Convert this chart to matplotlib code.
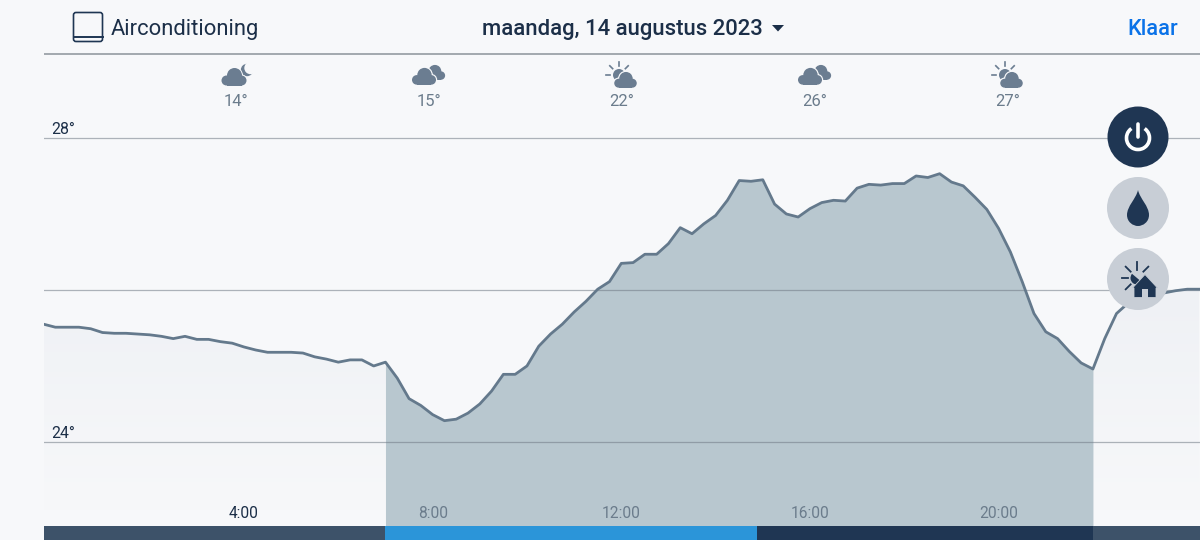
import numpy as np
import matplotlib
matplotlib.use("Agg")
import matplotlib.pyplot as plt
from matplotlib.patches import Circle, Rectangle, FancyBboxPatch, Polygon, Wedge, PathPatch, Arc
from matplotlib.path import Path
from matplotlib.transforms import ScaledTranslation

plt.rcParams['font.family'] = ['Roboto', 'DejaVu Sans']

# ---- data -------------------------------------------------------------
temperature = [
    25.55, 25.51, 25.51, 25.51, 25.49, 25.44, 25.43, 25.43, 25.42, 25.41,
    25.39, 25.36, 25.39, 25.35, 25.35, 25.32, 25.30, 25.25, 25.21, 25.18,
    25.18, 25.18, 25.17, 25.12, 25.09, 25.05, 25.08, 25.08, 25.00, 25.05,
    24.84, 24.57, 24.48, 24.36, 24.28, 24.30, 24.38, 24.50, 24.67, 24.89,
    24.89, 25.00, 25.26, 25.42, 25.55, 25.71, 25.85, 26.01, 26.11, 26.35,
    26.36, 26.47, 26.47, 26.61, 26.82, 26.74, 26.87, 26.98, 27.18, 27.44,
    27.43, 27.45, 27.13, 27.00, 26.96, 27.07, 27.15, 27.18, 27.17, 27.34,
    27.39, 27.38, 27.40, 27.40, 27.50, 27.48, 27.53, 27.42, 27.37, 27.22,
    27.06, 26.81, 26.50, 26.11, 25.69, 25.45, 25.36, 25.19, 25.04, 24.96,
    25.36, 25.69, 25.83, 25.87, 25.91, 25.96, 25.99, 26.01, 26.01,
]
first_hour = -0.25
slot_hours = 0.25
active_start, active_end = 7.0, 22.0
mode_edges = [-0.24, 7.0, 14.87, 22.0, 24.27]
mode_colors = ['#3d5269', '#2b95d9', '#1f3653', '#3d5269']
tick_hours = [4, 8, 12, 16, 20]
tick_labels = ['4:00', '8:00', '12:00', '16:00', '20:00']
grid_temps = [24, 26, 28]
grid_labels = ['24°', '', '28°']
forecast_x = [236, 429, 622, 815, 1008]
forecast_temp = ['14°', '15°', '22°', '26°', '27°']
forecast_kind = ['moon', 'clouds', 'sun', 'clouds', 'sun']

BG = '#f7f8fa'
NAVY = '#1f3653'
TEXT = '#1c2f48'
GREY = '#6b7c8c'
ICON = '#6b7d91'
BTN = '#c8ced6'

hours = first_hour + slot_hours * np.arange(len(temperature))
temps = np.array(temperature)

fig = plt.figure(figsize=(12, 5.4), dpi=100, facecolor=BG)
ax = fig.add_axes([44 / 1200, 0, 1156 / 1200, 486 / 540], facecolor=BG)
for s in ax.spines.values():
    s.set_visible(False)
base = 22.71

# soft gradient under the whole curve
outline = ax.fill_between(hours, temps, base, color='none', lw=0)
grad = np.linspace(0, 1, 256).reshape(-1, 1)
cmap = matplotlib.colors.LinearSegmentedColormap.from_list('g', ['#eff1f5', BG])
img = ax.imshow(grad, extent=(-0.24, 24.27, 23.1, 26.0), origin='upper', cmap=cmap,
                aspect='auto', zorder=0.5)
img.set_clip_path(outline.get_paths()[0], transform=ax.transData)
ax.set_xlim(-0.24, 24.27)
ax.set_ylim(base, 29.105)

# active period
active = (hours >= active_start) & (hours <= active_end)
ax.fill_between(hours[active], temps[active], base, color='#b8c7cf', lw=0, zorder=1)

# grid
ax.set_yticks(grid_temps, grid_labels)
ax.yaxis.grid(True, color='#6f7a85', alpha=0.55, lw=0.9, zorder=1.5)
ax.xaxis.grid(False)
ax.set_axisbelow(False)
ax.tick_params(axis='y', length=0, pad=-5.2, labelsize=11.4, labelcolor=TEXT)
lift = ScaledTranslation(0, 1 / 100, fig.dpi_scale_trans)
for lab in ax.get_yticklabels():
    lab.set_ha('left')
    lab.set_va('bottom')
    lab.set_transform(lab.get_transform() + lift)

# curve
ax.plot(hours, temps, color='#64798c', lw=2.0, solid_joinstyle='round', zorder=3)

# hour ticks
ax.set_xticks(tick_hours, tick_labels)
ax.tick_params(axis='x', length=0, pad=-24.8, labelsize=11.2)
for i, lab in enumerate(ax.get_xticklabels()):
    lab.set_color(TEXT if i == 0 else GREY)

# mode bar
for a, b, c in zip(mode_edges[:-1], mode_edges[1:], mode_colors):
    ax.axvspan(a, b, ymin=0, ymax=14 / 486, color=c, lw=0, zorder=4)

# ---- overlay in pixel coordinates --------------------------------------
ui = fig.add_axes([0, 0, 1, 1], facecolor='none')
ui.set_xlim(0, 1200)
ui.set_ylim(540, 0)
ui.axis('off')

ui.plot([44, 1200], [54, 54], color='#989fa5', lw=1.25, solid_capstyle='butt')

ui.text(111, 29, 'Airconditioning', fontsize=15.8, color=TEXT, va='center', ha='left')
ui.text(622.5, 29, 'maandag, 14 augustus 2023', fontsize=15.9, color=TEXT, va='center',
        ha='center', weight='medium')
ui.text(1178, 29.5, 'Klaar', fontsize=15.7, color='#0a72e8', va='center', ha='right', weight='medium')
ui.add_patch(Polygon([(772, 25), (784, 25), (778, 31.5)], color=TEXT, lw=0))

# appliance icon
ui.add_patch(FancyBboxPatch((73.5, 12.5), 29, 29, boxstyle='round,pad=0,rounding_size=2.5',
                            fc='none', ec=NAVY, lw=1.2))
ui.plot([73.5, 102.5], [36.5, 36.5], color=NAVY, lw=1.4)


def cloud(cx, cy, s, color=ICON, grow=0.0):
    parts = [Circle((cx - 7.5 * s, cy + 3 * s), 5 * s + grow),
             Circle((cx + 0.5 * s, cy - 2 * s), 7.5 * s + grow),
             Circle((cx + 7.5 * s, cy + 3 * s), 5 * s + grow),
             Rectangle((cx - 7.5 * s, cy + 1 * s - grow), 15 * s, 7 * s + 2 * grow)]
    for p in parts:
        p.set_facecolor(color)
        p.set_edgecolor('none')
        ui.add_patch(p)


def rays(cx, cy, angles, r0=8, r1=13, color=ICON):
    for a in angles:
        t = np.deg2rad(a)
        ui.plot([cx + r0 * np.cos(t), cx + r1 * np.cos(t)],
                [cy - r0 * np.sin(t), cy - r1 * np.sin(t)], color=color, lw=1.2)


for x, kind in zip(forecast_x, forecast_kind):
    if kind == 'moon':
        ui.add_patch(Circle((x + 11, 70), 6.2, color=ICON, lw=0))
        ui.add_patch(Circle((x + 14.5, 68), 6.2, color=BG, lw=0))
        cloud(x - 2, 77.5, 1.0, BG, 1.0)
        cloud(x - 2, 77.5, 1.0)
    elif kind == 'clouds':
        cloud(x + 5.5, 73, 0.85)
        cloud(x - 5, 77, 0.96, BG, 1.2)
        cloud(x - 5, 77, 0.96)
    else:
        ui.add_patch(Circle((x - 3, 75), 6, color=ICON, lw=0))
        rays(x - 3, 75, [90, 135, 180, 45], 9, 13)
        cloud(x + 3.5, 80.5, 0.9, BG, 1.2)
        cloud(x + 3.5, 80.5, 0.9)

for x, t in zip(forecast_x, forecast_temp):
    ui.text(x, 101, t, fontsize=12, color=GREY, ha='center', va='center')

# buttons
ui.add_patch(Circle((1138, 137), 30.5, color=NAVY, lw=0, zorder=5))
ui.add_patch(Circle((1138, 208), 31, color=BTN, lw=0, zorder=5))
ui.add_patch(Circle((1138, 279), 31, color=BTN, lw=0, zorder=5))

# power
ui.add_patch(Arc((1138, 138), 23, 23, theta1=-55, theta2=235, color='white', lw=2.6, zorder=6))
ui.plot([1138, 1138], [123.5, 137], color='white', lw=2.6, solid_capstyle='round', zorder=6)

# drop
drop = Path([(1138, 190), (1136, 199), (1127, 206), (1127, 215), (1127, 222), (1133, 226),
             (1138, 226), (1143, 226), (1149, 222), (1149, 215), (1149, 206), (1140, 199),
             (1138, 190)],
            [Path.MOVETO] + [Path.CURVE4] * 12)
ui.add_patch(PathPatch(drop, fc=NAVY, ec='none', zorder=6))

# sun + house
ui.add_patch(Wedge((1137, 278), 6.5, 40, 220, fc=NAVY, ec='none', zorder=6))
for a, r0, r1 in [(90, 8.5, 16), (135, 9, 16), (180, 9, 15), (225, 9, 16), (45, 9, 16)]:
    t = np.deg2rad(a)
    ui.plot([1137 + r0 * np.cos(t), 1137 + r1 * np.cos(t)],
            [278 - r0 * np.sin(t), 278 - r1 * np.sin(t)], color=NAVY, lw=1.3, zorder=6)
ui.add_patch(Polygon([(1145, 274.5), (1132.5, 288), (1134, 288), (1134, 297.5), (1156, 297.5),
                      (1156, 288), (1157.5, 288)], fc=NAVY, ec=BTN, lw=0.6, zorder=7))
ui.add_patch(Rectangle((1142, 289), 6, 8.5, color=BTN, lw=0, zorder=8))

fig.savefig('out.png', dpi=100, facecolor=BG)
